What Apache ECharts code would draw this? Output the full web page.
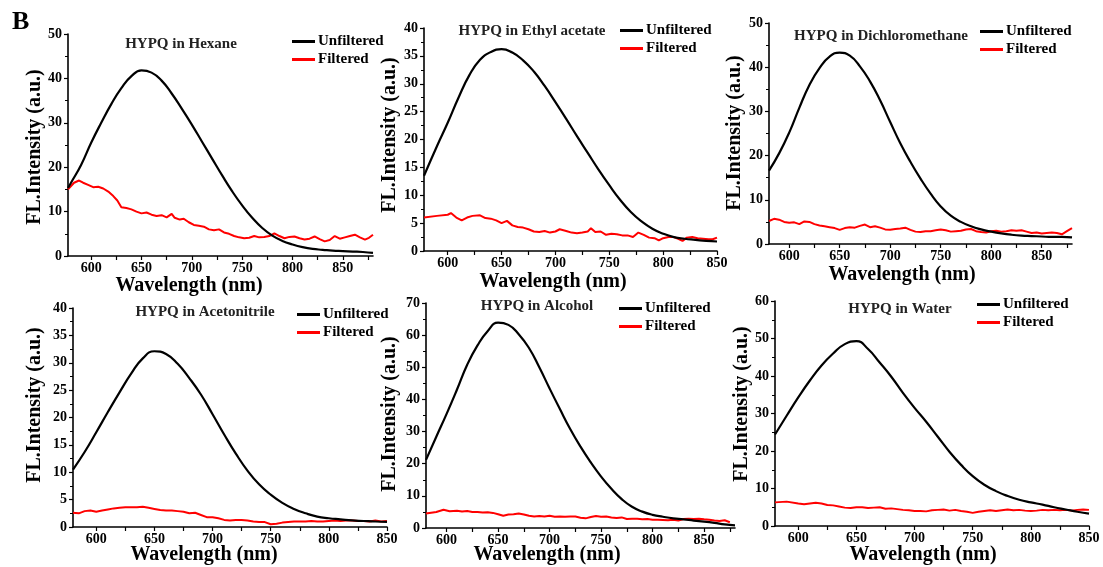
<!DOCTYPE html>
<html>
<head>
<meta charset="utf-8">
<script src="https://cdn.jsdelivr.net/npm/echarts@6/dist/echarts.min.js"></script>
<style>
  html, body { margin: 0; padding: 0; background: #fff; }
  #chart { width: 1103px; height: 567px; }
</style>
</head>
<body>
<div id="chart"></div>
<script>
// Spectra: [wavelength (nm), intensity (a.u.)]
const HEXANE_UNF = [[577,15.3],[580,16.5],[590,20.5],[600,25.5],[610,30],[620,34.2],[630,37.8],[640,40.5],[650,41.8],[660,41.3],[670,39.5],[680,36.6],[690,33.2],[700,29.6],[710,25.8],[720,22],[730,18.2],[740,14.6],[750,11.4],[760,8.6],[770,6.3],[780,4.6],[790,3.4],[800,2.6],[810,2],[820,1.6],[830,1.4],[840,1.2],[850,1.1],[860,1],[870,0.9],[880,0.7]];
const HEXANE_FIL = [[577,15],[583,16.5],[588,17],[592,16.5],[597,16],[602,15.5],[607,15.6],[612,15.2],[617,14.5],[622,13.5],[626,12.5],[630,11],[635,10.8],[640,10.5],[645,10],[650,9.6],[655,9.8],[660,9.3],[665,9],[670,9.2],[675,8.7],[680,9.5],[683,8.6],[688,8.2],[692,8.4],[697,7.6],[702,7],[707,6.8],[712,6.6],[717,6],[722,5.8],[727,6],[732,5.3],[737,5],[742,4.5],[747,4.2],[752,4],[757,4.1],[762,4.5],[767,4.2],[772,4.3],[777,4.5],[782,5.1],[787,4.5],[792,4],[797,4.3],[802,4.4],[807,4],[812,3.7],[817,3.9],[822,4.4],[827,3.8],[832,3.3],[837,3.6],[842,4.5],[847,3.9],[852,4.2],[857,4.5],[862,4.8],[867,4.2],[872,3.7],[876,4.1],[880,4.8]];

const ETHYL_UNF = [[578,13.5],[590,18.8],[600,23],[610,27.5],[620,31.5],[630,34.3],[640,35.7],[650,36.2],[660,35.6],[670,34.2],[680,32.2],[690,29.6],[700,26.7],[710,23.7],[720,20.6],[730,17.6],[740,14.6],[750,11.8],[760,9.2],[770,7],[780,5.3],[790,4],[800,3.1],[810,2.5],[820,2.2],[830,2],[840,1.8],[850,1.7]];
const ETHYL_FIL = [[578,6],[590,6.3],[600,6.5],[603,6.8],[608,6],[613,5.5],[618,6],[623,6.3],[630,6.4],[635,5.9],[640,5.8],[645,5.5],[650,5],[655,5.4],[660,4.6],[665,4.3],[670,4.2],[675,3.9],[680,3.5],[685,3.4],[690,3.6],[695,3.3],[700,3.5],[704,3.9],[710,3.6],[715,3.3],[720,3.2],[725,3.3],[730,3.5],[733,4.1],[737,3.4],[742,3.5],[747,2.9],[752,3.1],[757,3],[762,2.8],[767,2.8],[772,2.5],[777,3.3],[782,2.9],[787,2.4],[792,2.3],[796,1.9],[800,2.3],[805,2.5],[810,2.5],[815,2.1],[818,1.8],[822,2.4],[827,2.5],[832,2.3],[837,2.2],[842,2.1],[846,2.1],[850,2.4]];

const DCM_UNF = [[580,16.6],[590,20.5],[600,25.2],[610,30.8],[620,36],[630,39.8],[640,42.4],[650,43.3],[660,42.6],[670,40.2],[680,36.8],[690,32.5],[700,27.6],[710,22.8],[720,18.6],[730,14.8],[740,11.4],[750,8.5],[760,6.4],[770,5],[780,4],[790,3.3],[800,2.8],[810,2.4],[820,2.1],[830,1.9],[840,1.8],[850,1.7],[860,1.6],[870,1.6],[880,1.5]];
const DCM_FIL = [[580,5.2],[585,5.7],[590,5.5],[595,5],[600,4.8],[605,4.9],[610,4.5],[615,5.1],[620,5],[625,4.5],[630,4.2],[635,4],[640,3.8],[645,3.6],[650,3.2],[655,3.6],[660,3.8],[665,3.7],[670,4.1],[675,4.4],[680,3.8],[685,4],[690,3.7],[695,3.3],[700,3.2],[705,3.4],[710,3.5],[715,3.7],[720,3.2],[725,2.8],[730,2.7],[735,2.9],[740,2.9],[745,3.1],[750,3.3],[755,3.1],[760,2.8],[765,2.9],[770,3],[775,3.3],[780,3.4],[785,2.9],[790,2.7],[795,2.6],[800,2.9],[805,3],[810,2.8],[815,2.9],[820,3.1],[825,3],[830,3.1],[835,2.8],[840,2.5],[845,2.6],[850,2.4],[855,2.5],[860,2.6],[865,2.5],[870,2.2],[875,2.9],[880,3.6]];

const ACN_UNF = [[580,10.5],[590,13.7],[600,17.3],[610,21],[620,24.6],[630,28],[640,30.8],[650,32.1],[660,31.6],[670,29.8],[680,27.2],[690,24.2],[700,20.6],[710,16.9],[720,13.4],[730,10.3],[740,7.8],[750,5.9],[760,4.4],[770,3.3],[780,2.5],[790,1.9],[800,1.6],[810,1.4],[820,1.2],[830,1.1],[840,1],[850,0.95]];
const ACN_FIL = [[580,2.6],[585,2.5],[590,2.9],[595,3],[600,2.8],[605,3],[610,3.2],[615,3.4],[620,3.5],[625,3.6],[630,3.6],[635,3.6],[640,3.7],[645,3.5],[650,3.3],[655,3.1],[660,3],[665,3],[670,2.9],[675,2.8],[680,2.5],[685,2.6],[690,2.2],[695,1.8],[700,1.8],[705,1.6],[710,1.3],[715,1.2],[720,1.3],[725,1.3],[730,1.2],[735,1],[740,0.9],[745,0.9],[750,0.5],[755,0.6],[760,0.8],[765,0.9],[770,1],[775,1],[780,1],[785,1.1],[790,1],[795,1],[800,1.1],[805,1.2],[810,1.1],[815,1.2],[820,1.2],[825,1.1],[830,1.1],[835,1],[840,1.2],[845,1],[850,1.1]];

const ALCOHOL_UNF = [[580,21.2],[590,28.4],[600,35.5],[610,43],[620,50.8],[630,56.8],[640,61.3],[650,63.9],[660,63.2],[670,60.3],[680,56],[690,50],[700,43.4],[710,37],[720,30.8],[730,25.3],[740,20.4],[750,16],[760,12.2],[770,9],[780,6.6],[790,5.1],[800,4.1],[810,3.5],[820,3],[830,2.7],[840,2.3],[850,2],[860,1.6],[870,1.1],[880,0.8]];
const ALCOHOL_FIL = [[580,4.5],[590,5],[597,5.7],[603,5.2],[610,5.4],[615,5.1],[620,5.3],[625,5],[630,5],[635,4.8],[640,4.9],[645,4.7],[650,4.3],[655,3.8],[660,4.2],[665,4.3],[670,4.5],[675,4.2],[680,3.8],[685,3.6],[690,3.7],[695,3.6],[700,3.8],[705,3.5],[710,3.6],[715,3.5],[720,3.6],[725,3.6],[730,3.2],[735,3],[740,3.4],[745,3.7],[750,3.5],[755,3.6],[760,3.3],[765,3.1],[770,3.3],[775,2.8],[780,2.9],[785,2.9],[790,2.7],[795,2.8],[800,2.6],[805,2.6],[810,2.5],[815,2.4],[820,2.6],[825,2.3],[830,2.8],[835,2.9],[840,2.8],[845,2.9],[850,2.7],[855,2.6],[860,2.3],[865,2.2],[870,2.4],[875,1.8]];

const WATER_UNF = [[580,24.4],[590,29.4],[600,34.3],[610,38.8],[620,42.8],[630,46],[640,48.5],[650,49.3],[660,47.2],[670,43.6],[680,39.8],[690,35.5],[700,31.5],[710,27.8],[720,23.8],[730,19.8],[740,16.3],[750,13.3],[760,11],[770,9.3],[780,8],[790,7],[800,6.3],[810,5.7],[820,5],[830,4.4],[840,3.8],[850,3.3]];
const WATER_FIL = [[580,6.3],[590,6.5],[600,6],[605,5.8],[610,6],[615,6.2],[620,6],[625,5.6],[630,5.5],[635,5.2],[640,4.9],[645,4.8],[650,5],[655,5],[660,4.8],[665,4.9],[670,5],[675,4.6],[680,4.7],[685,4.5],[690,4.3],[695,4.2],[700,4],[705,4],[710,3.9],[715,4.2],[720,4.3],[725,4.4],[730,4.1],[735,4.3],[740,4],[745,3.8],[750,3.5],[755,3.8],[760,4],[765,4.2],[770,4],[775,4.2],[780,4.4],[785,4.2],[790,4.3],[795,4.1],[800,4],[805,4.1],[810,4.3],[815,4.2],[820,4.3],[825,4.2],[830,4.3],[835,4.1],[840,4.3],[845,4.4],[850,4.3]];

const TITLES = ['HYPQ in Hexane', 'HYPQ in Ethyl acetate', 'HYPQ in Dichloromethane',
                'HYPQ in Acetonitrile', 'HYPQ in Alcohol', 'HYPQ in Water'];
const UNFILTERED = [HEXANE_UNF, ETHYL_UNF, DCM_UNF, ACN_UNF, ALCOHOL_UNF, WATER_UNF];
const FILTERED = [HEXANE_FIL, ETHYL_FIL, DCM_FIL, ACN_FIL, ALCOHOL_FIL, WATER_FIL];
const X_MIN = [577, 578, 580, 580, 580, 580];
const X_MAX = [880, 850, 880, 850, 880, 850];
const Y_MAX = [50, 40, 50, 40, 70, 60];
const Y_STEP = [10, 5, 10, 5, 10, 10];
const X_LABELS = [600, 650, 700, 750, 800, 850];
const X_TICKS = [600, 625, 650, 675, 700, 725, 750, 775, 800, 825, 850, 875];
const SERIES_NAMES = ['Unfiltered', 'Filtered'];

// layout, pixels
const GRIDS = [
  { left: 68, top: 34, width: 305, height: 222 },
  { left: 424, top: 28, width: 293, height: 223 },
  { left: 769, top: 23, width: 303, height: 221 },
  { left: 73, top: 308, width: 314, height: 219 },
  { left: 426, top: 303, width: 309, height: 225 },
  { left: 775, top: 301, width: 314, height: 225 }
];
const TITLE_POS = [[181, 46], [532, 33], [881, 38], [205, 314], [537, 308], [900, 311]];
const LEGEND_POS = [[292, 42], [620, 31], [980, 32], [297, 315], [619, 309], [977, 305]];
const XNAME_POS = [[189, 286], [553, 282], [902, 275], [204, 555], [547, 555], [923, 555]];
const YNAME_POS = [[35, 147], [390, 135], [735, 133], [35, 405], [390, 414], [742, 404]];

const FONT = '"Liberation Serif", "Times New Roman", serif';

const chart = echarts.init(document.getElementById('chart'), null, { renderer: 'canvas' });

const grid = [], xAxis = [], yAxis = [], series = [], title = [], legend = [], graphic = [];

GRIDS.forEach((g, i) => {
  grid.push({ ...g, outerBoundsMode: 'none' });

  xAxis.push({
    type: 'value', gridIndex: i, min: X_MIN[i], max: X_MAX[i],
    axisLine: { show: true, onZero: false, lineStyle: { color: '#000', width: 1.6 } },
    axisTick: { show: true, inside: false, length: 4, lineStyle: { color: '#000', width: 1.2 },
                customValues: X_TICKS.filter(v => v <= X_MAX[i]) },
    axisLabel: { color: '#000', fontFamily: FONT, fontWeight: 'bold', fontSize: 14, margin: 5,
                 customValues: X_LABELS },
    splitLine: { show: false }
  });

  yAxis.push({
    type: 'value', gridIndex: i, min: 0, max: Y_MAX[i], interval: Y_STEP[i],
    axisLine: { show: true, lineStyle: { color: '#000', width: 1.6 } },
    axisTick: { show: true, inside: false, length: 4, lineStyle: { color: '#000', width: 1.2 } },
    minorTick: { show: true, splitNumber: 2, length: 3, lineStyle: { color: '#000', width: 1 } },
    axisLabel: { color: '#000', fontFamily: FONT, fontWeight: 'bold', fontSize: 14, margin: 6 },
    splitLine: { show: false }
  });

  series.push({
    name: SERIES_NAMES[0], type: 'line', xAxisIndex: i, yAxisIndex: i,
    data: UNFILTERED[i], showSymbol: false, smooth: 0.5, z: 3,
    lineStyle: { color: '#000', width: 2.2 }, itemStyle: { color: '#000' }
  });
  series.push({
    name: SERIES_NAMES[1], type: 'line', xAxisIndex: i, yAxisIndex: i,
    data: FILTERED[i], showSymbol: false, z: 2,
    lineStyle: { color: '#ff0000', width: 2 }, itemStyle: { color: '#ff0000' }
  });

  title.push({
    text: TITLES[i], left: TITLE_POS[i][0], top: TITLE_POS[i][1] - 9, textAlign: 'center',
    padding: 0,
    textStyle: { fontFamily: FONT, fontWeight: 'bold', fontSize: 15, color: '#222' }
  });

  legend.push({
    left: LEGEND_POS[i][0], top: LEGEND_POS[i][1] - 8, orient: 'vertical', padding: 0,
    itemWidth: 23, itemHeight: 3, itemGap: 3, icon: 'rect', selectedMode: false,
    textStyle: { fontFamily: FONT, fontWeight: 'bold', fontSize: 15, color: '#000', padding: [0, 0, 0, -2] },
    data: SERIES_NAMES
  });

  graphic.push({
    type: 'text', x: XNAME_POS[i][0], y: XNAME_POS[i][1],
    style: { text: 'Wavelength (nm)', align: 'center', verticalAlign: 'middle',
             font: 'bold 20px ' + FONT, fill: '#000' }
  });
  graphic.push({
    type: 'text', x: YNAME_POS[i][0], y: YNAME_POS[i][1], rotation: Math.PI / 2,
    style: { text: 'FL.Intensity (a.u.)', align: 'center', verticalAlign: 'middle',
             font: 'bold 20px ' + FONT, fill: '#000' }
  });
});

graphic.push({
  type: 'text', x: 12, y: 9,
  style: { text: 'B', font: 'bold 26px ' + FONT, fill: '#000' }
});

chart.setOption({
  animation: false,
  backgroundColor: '#fff',
  title, legend, grid, xAxis, yAxis, series, graphic
});
</script>
</body>
</html>
